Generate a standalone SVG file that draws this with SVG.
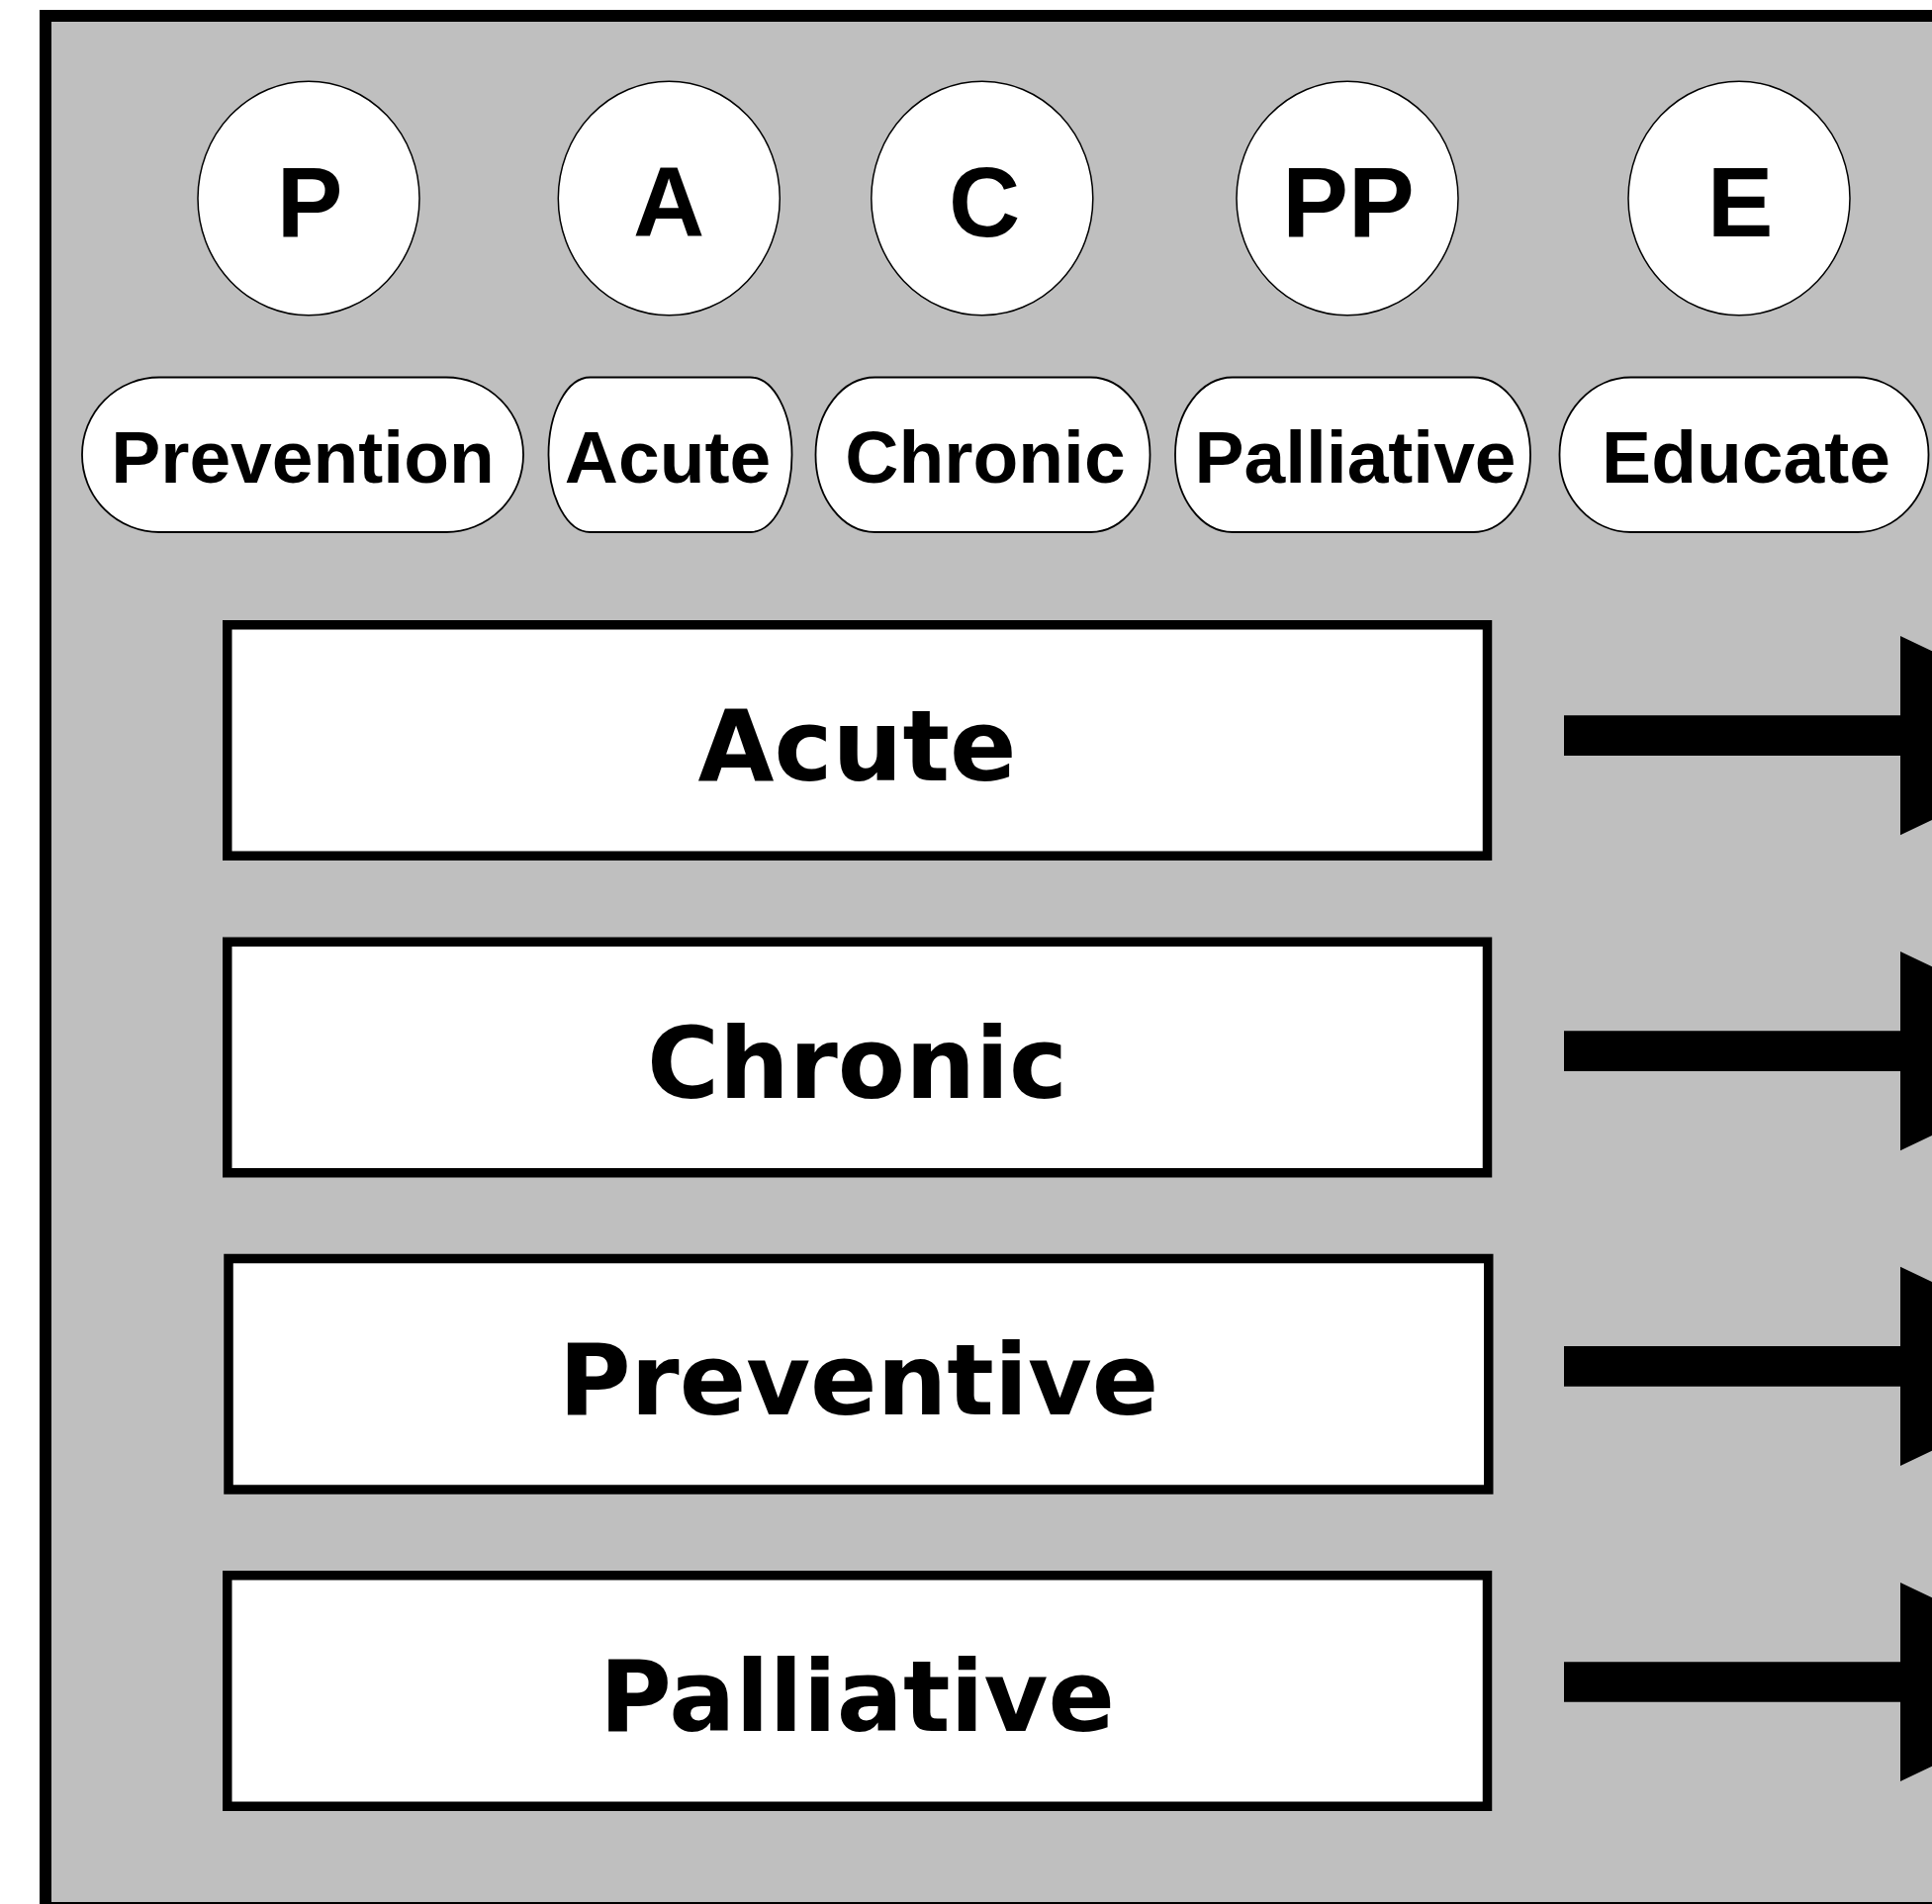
<svg xmlns="http://www.w3.org/2000/svg" width="1953" height="1925" viewBox="0 0 1953 1925">
<style>
.frame{fill:#BFBFBF;stroke:#000;stroke-width:12}
.circ{fill:#fff;stroke:#000;stroke-width:1.5}
.pill{fill:#fff;stroke:#000;stroke-width:1.8}
.box{fill:#fff;stroke:#000;stroke-width:9.5}
.lt{font-family:"Liberation Sans",Arial,sans-serif;font-weight:bold;text-anchor:middle;fill:#000}
.big{font-size:100px}
.mid{font-size:75px}
.bt{font-family:"DejaVu Sans",Verdana,sans-serif;font-weight:bold;font-size:99.5px;text-anchor:middle;fill:#000}
.arr{fill:#000}
</style>
<rect x="0" y="0" width="1953" height="1925" fill="#fff"/>
<rect class="frame" x="46" y="16" width="1940" height="1913"/>

<g id="circle-P"><ellipse class="circ" cx="312" cy="200.5" rx="112" ry="118.3"/><text class="lt big" x="313" y="239">P</text></g>
<g id="circle-A"><ellipse class="circ" cx="676.3" cy="200.5" rx="112" ry="118.3"/><text class="lt big" x="676" y="239">A</text></g>
<g id="circle-C"><ellipse class="circ" cx="992.8" cy="200.5" rx="112" ry="118.3"/><text class="lt big" x="995" y="239">C</text></g>
<g id="circle-PP"><ellipse class="circ" cx="1362" cy="200.5" rx="112" ry="118.3"/><text class="lt big" x="1363" y="239">PP</text></g>
<g id="circle-E"><ellipse class="circ" cx="1758" cy="200.5" rx="112" ry="118.3"/><text class="lt big" x="1759" y="239">E</text></g>

<g id="pill-prevention"><rect class="pill" x="83" y="381.5" width="446" height="156.5" rx="78" ry="78"/><text class="lt mid" x="306" y="488.3">Prevention</text></g>
<g id="pill-acute"><rect class="pill" x="554.5" y="381.5" width="246" height="156.5" rx="42" ry="78"/><text class="lt mid" x="675" y="488.3">Acute</text></g>
<g id="pill-chronic"><rect class="pill" x="824.5" y="381.5" width="338" height="156.5" rx="60" ry="78"/><text class="lt mid" x="996" y="488.3">Chronic</text></g>
<g id="pill-palliative"><rect class="pill" x="1188" y="381.5" width="359" height="156.5" rx="58" ry="78"/><text class="lt mid" x="1370" y="488.3">Palliative</text></g>
<g id="pill-educate"><rect class="pill" x="1576.5" y="381.5" width="373" height="156.5" rx="72" ry="78"/><text class="lt mid" x="1765" y="488.3">Educate</text></g>

<g id="box-acute"><rect class="box" x="229.75" y="631.75" width="1273.75" height="233.5"/><text class="bt" x="866.5" y="789">Acute</text></g>
<g id="box-chronic"><rect class="box" x="229.75" y="952.25" width="1273.75" height="233.5"/><text class="bt" x="866.5" y="1109.5">Chronic</text></g>
<g id="box-preventive"><rect class="box" x="231" y="1272.5" width="1273.75" height="233.5"/><text class="bt" x="868" y="1429.5">Preventive</text></g>
<g id="box-palliative"><rect class="box" x="229.75" y="1592.75" width="1273.75" height="233.5"/><text class="bt" x="866.5" y="1750">Palliative</text></g>

<g id="connectors">
<path class="arr" d="M1581,723.3 H1921 V643 L2132,743.7 L1921,844.3 V764 H1581 Z"/>
<path class="arr" d="M1581,1042.2 H1921 V961.9 L2132,1062.6 L1921,1163.2 V1082.9 H1581 Z"/>
<path class="arr" d="M1581,1361.1 H1921 V1280.8 L2132,1381.5 L1921,1482.1 V1401.8 H1581 Z"/>
<path class="arr" d="M1581,1680.3 H1921 V1600 L2132,1700.5 L1921,1801 V1720.7 H1581 Z"/>
</g>
</svg>
